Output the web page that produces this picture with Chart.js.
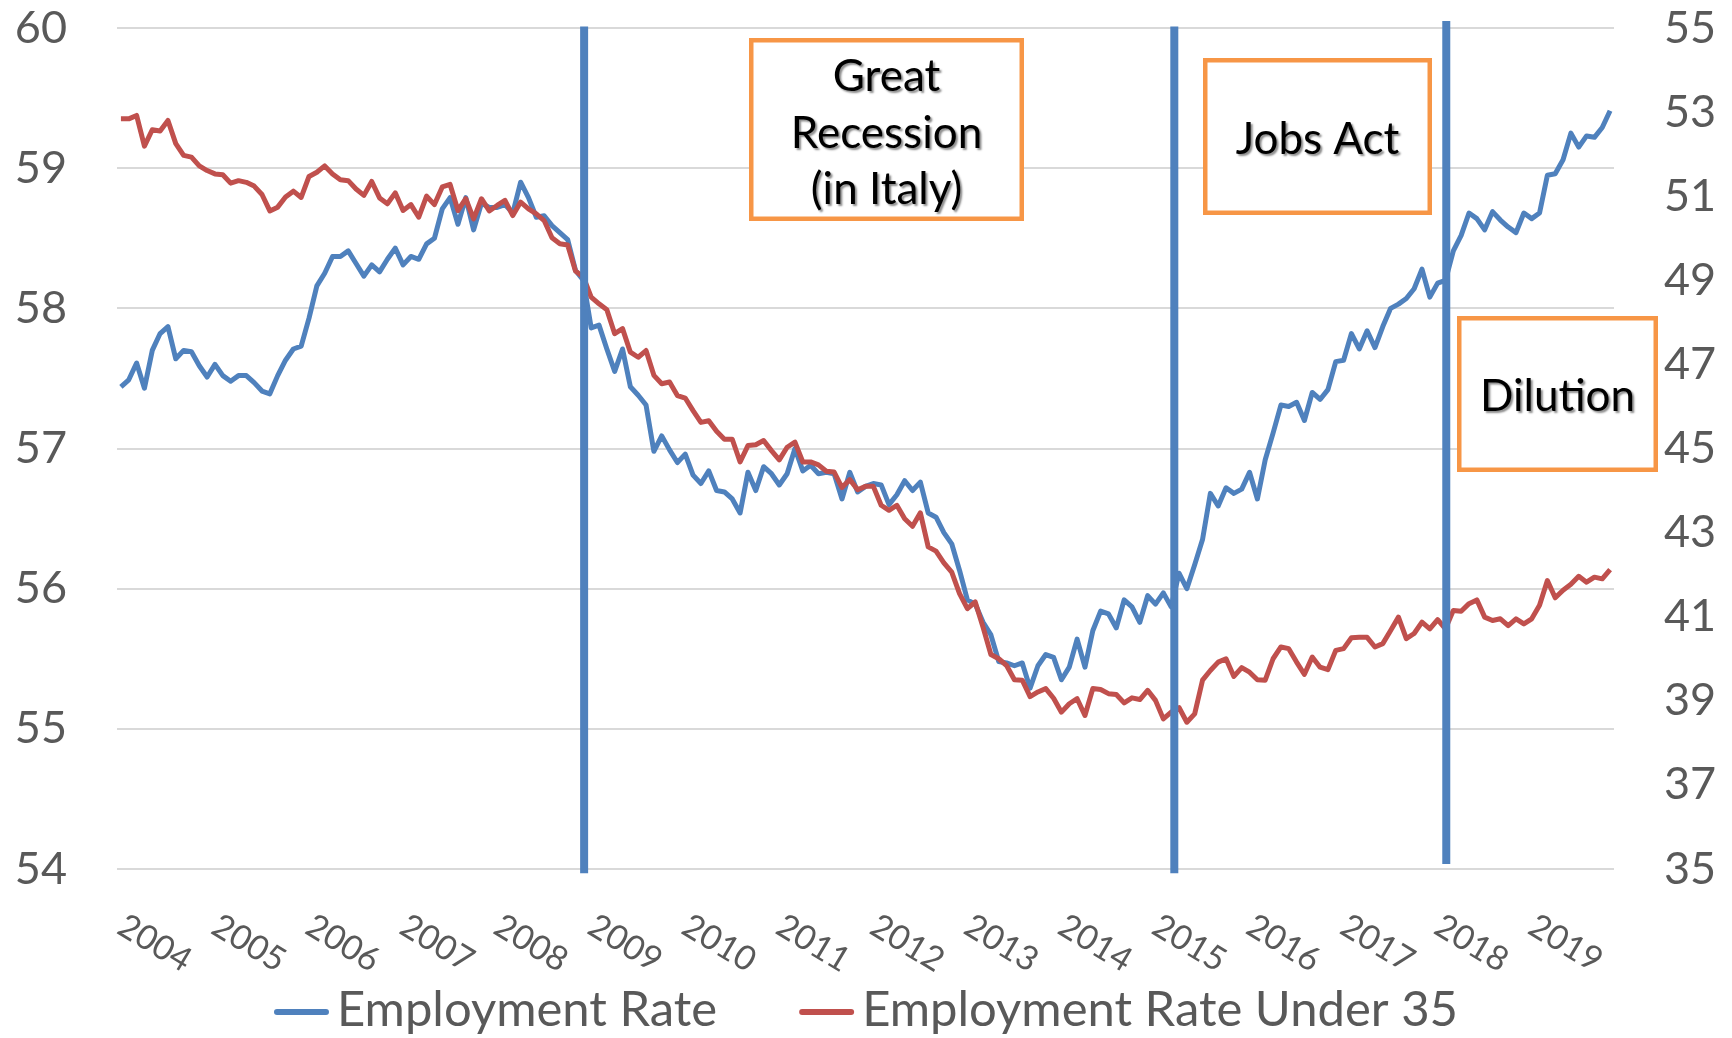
<!DOCTYPE html>
<html>
<head>
<meta charset="utf-8">
<script src="https://cdn.jsdelivr.net/npm/chart.js@4.4.1/dist/chart.umd.min.js"></script>
<style>
  html, body { margin: 0; padding: 0; background: #fff; }
  #wrap { width: 1732px; height: 1038px; }
</style>
</head>
<body>
<div id="wrap"><canvas id="chart" width="1732" height="1038"></canvas></div>
<script>
// monthly series, Jan 2004 onwards
const firstYear = 2004;
const yearLabels = ['2004', '2005', '2006', '2007', '2008', '2009', '2010', '2011',
  '2012', '2013', '2014', '2015', '2016', '2017', '2018', '2019'];

const employmentRate = [
  57.44, 57.49, 57.61, 57.43, 57.70, 57.82, 57.87, 57.64, 57.70, 57.69,
  57.59, 57.51, 57.60, 57.52, 57.48, 57.52, 57.52, 57.47, 57.41, 57.39,
  57.52, 57.63, 57.71, 57.73, 57.93, 58.16, 58.25, 58.37, 58.37, 58.41,
  58.32, 58.23, 58.31, 58.26, 58.35, 58.43, 58.31, 58.37, 58.35, 58.46,
  58.50, 58.71, 58.79, 58.60, 58.79, 58.56, 58.75, 58.72, 58.72, 58.74,
  58.68, 58.90, 58.79, 58.65, 58.66, 58.59, 58.54, 58.49, 58.27, 58.20,
  57.86, 57.88, 57.71, 57.55, 57.71, 57.44, 57.38, 57.31, 56.98, 57.09,
  56.99, 56.90, 56.96, 56.81, 56.75, 56.84, 56.70, 56.69, 56.64, 56.54,
  56.83, 56.70, 56.87, 56.82, 56.74, 56.82, 57.00, 56.84, 56.88, 56.82,
  56.83, 56.82, 56.64, 56.83, 56.69, 56.73, 56.75, 56.74, 56.60, 56.67,
  56.77, 56.70, 56.76, 56.54, 56.51, 56.40, 56.32, 56.13, 55.92, 55.89,
  55.76, 55.67, 55.48, 55.47, 55.45, 55.47, 55.29, 55.45, 55.53, 55.51,
  55.35, 55.44, 55.64, 55.44, 55.70, 55.84, 55.82, 55.72, 55.92, 55.87,
  55.76, 55.95, 55.89, 55.97, 55.87, 56.11, 56.00, 56.17, 56.35, 56.68,
  56.59, 56.72, 56.68, 56.71, 56.83, 56.64, 56.92, 57.11, 57.31, 57.30,
  57.33, 57.20, 57.40, 57.35, 57.42, 57.62, 57.63, 57.82, 57.71, 57.84,
  57.72, 57.87, 58.00, 58.03, 58.07, 58.14, 58.28, 58.08, 58.18, 58.20,
  58.41, 58.52, 58.68, 58.64, 58.56, 58.69, 58.63, 58.58, 58.54, 58.68,
  58.64, 58.68, 58.95, 58.96, 59.06, 59.25, 59.15, 59.23, 59.22, 59.29,
  59.41
];

const employmentUnder35 = [
  52.84, 52.84, 52.92, 52.19, 52.58, 52.55, 52.80, 52.25, 51.97, 51.93,
  51.72, 51.61, 51.53, 51.51, 51.31, 51.37, 51.33, 51.24, 51.04, 50.65,
  50.74, 50.98, 51.12, 50.97, 51.47, 51.57, 51.72, 51.53, 51.39, 51.37,
  51.17, 51.02, 51.35, 50.96, 50.82, 51.08, 50.66, 50.80, 50.50, 51.00,
  50.80, 51.22, 51.28, 50.66, 50.94, 50.46, 50.94, 50.65, 50.78, 50.90,
  50.54, 50.86, 50.70, 50.58, 50.42, 50.01, 49.87, 49.84, 49.22, 49.08,
  48.60, 48.44, 48.30, 47.73, 47.85, 47.29, 47.17, 47.33, 46.74, 46.54,
  46.58, 46.26, 46.20, 45.90, 45.62, 45.66, 45.41, 45.22, 45.22, 44.68,
  45.07, 45.09, 45.19, 44.95, 44.73, 45.03, 45.15, 44.68, 44.68, 44.61,
  44.46, 44.44, 44.07, 44.26, 44.02, 44.10, 44.10, 43.65, 43.53, 43.65,
  43.33, 43.15, 43.47, 42.66, 42.56, 42.28, 42.06, 41.55, 41.19, 41.35,
  40.75, 40.10, 40.00, 39.84, 39.50, 39.49, 39.10, 39.21, 39.29, 39.06,
  38.73, 38.93, 39.05, 38.65, 39.29, 39.27, 39.17, 39.15, 38.95, 39.07,
  39.03, 39.25, 39.01, 38.57, 38.73, 38.84, 38.49, 38.69, 39.49, 39.72,
  39.92, 40.00, 39.58, 39.79, 39.68, 39.50, 39.49, 40.00, 40.28, 40.24,
  39.92, 39.63, 40.04, 39.80, 39.74, 40.20, 40.24, 40.50, 40.51, 40.51,
  40.28, 40.36, 40.67, 40.99, 40.48, 40.60, 40.87, 40.71, 40.93, 40.71,
  41.15, 41.13, 41.31, 41.40, 40.99, 40.91, 40.95, 40.79, 40.95, 40.83,
  40.95, 41.27, 41.86, 41.45, 41.63, 41.77, 41.96, 41.82, 41.94, 41.90,
  42.12
];

const leftTicks = [54, 55, 56, 57, 58, 59, 60];
const rightTicks = [35, 37, 39, 41, 43, 45, 47, 49, 51, 53, 55];

const seriesNames = ['Employment Rate', 'Employment Rate Under 35'];
// event marks, in months since Jan 2004 (Dec 2008, Mar 2015, Feb 2018)
const eventAt = [59.1, 134.4, 169.1];
const calloutText = [['Great', 'Recession', '(in Italy)'], ['Jobs Act'], ['Dilution']];

// month categories
const months = employmentRate.map((_, i) => {
  const y = firstYear + Math.floor(i / 12);
  const m = String(i % 12 + 1).padStart(2, '0');
  return `${y}-${m}`;
});

const BLUE = '#4F81BD';
const RED = '#C0504D';
const ORANGE = '#F79646';
const GREY = '#595959';
const FONT = 'Lato, "Open Sans", sans-serif';

// vertical extent of each event line, in left-axis units
const eventSpan = [[60.01, 53.97], [60.01, 53.97], [60.05, 54.035]];

const eventLines = {
  id: 'eventLines',
  afterDatasetsDraw(chart) {
    const { ctx, scales: { x, y } } = chart;
    ctx.save();
    ctx.strokeStyle = BLUE;
    ctx.lineWidth = 8;
    ctx.lineCap = 'butt';
    eventAt.forEach((idx, k) => {
      const px = x.getPixelForValue(idx);
      ctx.beginPath();
      ctx.moveTo(px, y.getPixelForValue(eventSpan[k][0]));
      ctx.lineTo(px, y.getPixelForValue(eventSpan[k][1]));
      ctx.stroke();
    });
    ctx.restore();
  }
};

// box geometry [x, y, w, h] and text centre lines
const calloutBoxes = [
  { rect: [749, 38, 275, 183], lines: [75, 131.7, 188.3] },
  { rect: [1203, 58, 229, 157], lines: [138.3] },
  { rect: [1457, 316, 201, 156], lines: [395] },
];

const callouts = {
  id: 'callouts',
  afterDraw(chart) {
    const { ctx } = chart;
    ctx.save();
    calloutBoxes.forEach((b, k) => {
      const [bx, by, bw, bh] = b.rect;
      ctx.fillStyle = '#fff';
      ctx.fillRect(bx, by, bw, bh);
      ctx.strokeStyle = ORANGE;
      ctx.lineWidth = 4.5;
      ctx.strokeRect(bx + 2.25, by + 2.25, bw - 4.5, bh - 4.5);

      ctx.save();
      ctx.font = `44px ${FONT}`;
      ctx.fillStyle = '#000';
      ctx.textAlign = 'center';
      ctx.textBaseline = 'middle';
      ctx.shadowColor = 'rgba(0,0,0,0.45)';
      ctx.shadowOffsetX = 2;
      ctx.shadowOffsetY = 2;
      ctx.shadowBlur = 2;
      calloutText[k].forEach((t, j) => {
        ctx.fillText(t, bx + bw / 2, b.lines[j] + 2);
      });
      ctx.restore();
    });
    ctx.restore();
  }
};

const yearAxis = {
  id: 'yearAxis',
  afterDraw(chart) {
    const { ctx, chartArea, scales: { x } } = chart;
    ctx.save();
    ctx.font = `34px ${FONT}`;
    ctx.fillStyle = GREY;
    ctx.textAlign = 'left';
    ctx.textBaseline = 'middle';
    yearLabels.forEach((yr, k) => {
      const px = x.getPixelForValue(k * 12);
      ctx.save();
      ctx.translate(px, chartArea.bottom + 54);
      ctx.rotate(31 * Math.PI / 180);
      ctx.fillText(yr, 0, 0);
      ctx.restore();
    });
    ctx.restore();
  }
};

const lineLegend = {
  id: 'lineLegend',
  afterDraw(chart) {
    const { ctx, width } = chart;
    const colors = [BLUE, RED];
    const sample = 55, gapText = 8, gapItem = 82;
    ctx.save();
    ctx.font = `49px ${FONT}`;
    const widths = seriesNames.map((n) => ctx.measureText(n).width);
    const total = widths.reduce((s, w) => s + sample + gapText + w, 0) + gapItem;
    let x0 = (width - total) / 2;
    const yLine = 1012, yText = 1026;
    seriesNames.forEach((n, k) => {
      ctx.strokeStyle = colors[k];
      ctx.lineWidth = 6;
      ctx.lineCap = 'round';
      ctx.beginPath();
      ctx.moveTo(x0 + 3, yLine);
      ctx.lineTo(x0 + sample - 3, yLine);
      ctx.stroke();
      ctx.fillStyle = GREY;
      ctx.textAlign = 'left';
      ctx.textBaseline = 'alphabetic';
      ctx.fillText(n, x0 + sample + gapText, yText);
      x0 += sample + gapText + widths[k] + gapItem;
    });
    ctx.restore();
  }
};

new Chart(document.getElementById('chart'), {
  type: 'line',
  data: {
    labels: months,
    datasets: [
      {
        label: seriesNames[0],
        data: employmentRate,
        yAxisID: 'y',
        borderColor: BLUE,
        backgroundColor: BLUE,
        borderWidth: 5,
        pointRadius: 0,
        tension: 0,
        borderJoinStyle: 'round',
        order: 2,
      },
      {
        label: seriesNames[1],
        data: employmentUnder35,
        yAxisID: 'y2',
        borderColor: RED,
        backgroundColor: RED,
        borderWidth: 5,
        pointRadius: 0,
        tension: 0,
        borderJoinStyle: 'round',
        order: 1,
      },
    ],
  },
  options: {
    responsive: false,
    devicePixelRatio: 1,
    animation: false,
    layout: { padding: { top: 28, left: 0, right: 0, bottom: 0 } },
    plugins: {
      legend: { display: false },
      tooltip: { enabled: false },
    },
    scales: {
      x: {
        offset: true,
        grid: { display: false },
        border: { display: false },
        ticks: { display: false },
        afterFit: (scale) => { scale.height = 169; },
      },
      y: {
        position: 'left',
        min: leftTicks[0],
        max: leftTicks[leftTicks.length - 1],
        ticks: {
          stepSize: 1,
          color: GREY,
          padding: 2,
          font: { family: FONT, size: 45, lineHeight: 1 },
        },
        grid: { color: '#D9D9D9', lineWidth: 2, drawTicks: true, tickLength: 48, tickColor: 'rgba(0,0,0,0)' },
        border: { display: false },
        afterFit: (scale) => { scale.width = 117; },
      },
      y2: {
        position: 'right',
        min: rightTicks[0],
        max: rightTicks[rightTicks.length - 1],
        ticks: {
          stepSize: 2,
          color: GREY,
          padding: 2,
          font: { family: FONT, size: 45, lineHeight: 1 },
        },
        grid: { display: false, drawOnChartArea: false, drawTicks: true, tickLength: 48, tickColor: 'rgba(0,0,0,0)' },
        border: { display: false },
        afterFit: (scale) => { scale.width = 118; },
      },
    },
  },
  plugins: [eventLines, yearAxis, callouts, lineLegend],
});
</script>
</body>
</html>
